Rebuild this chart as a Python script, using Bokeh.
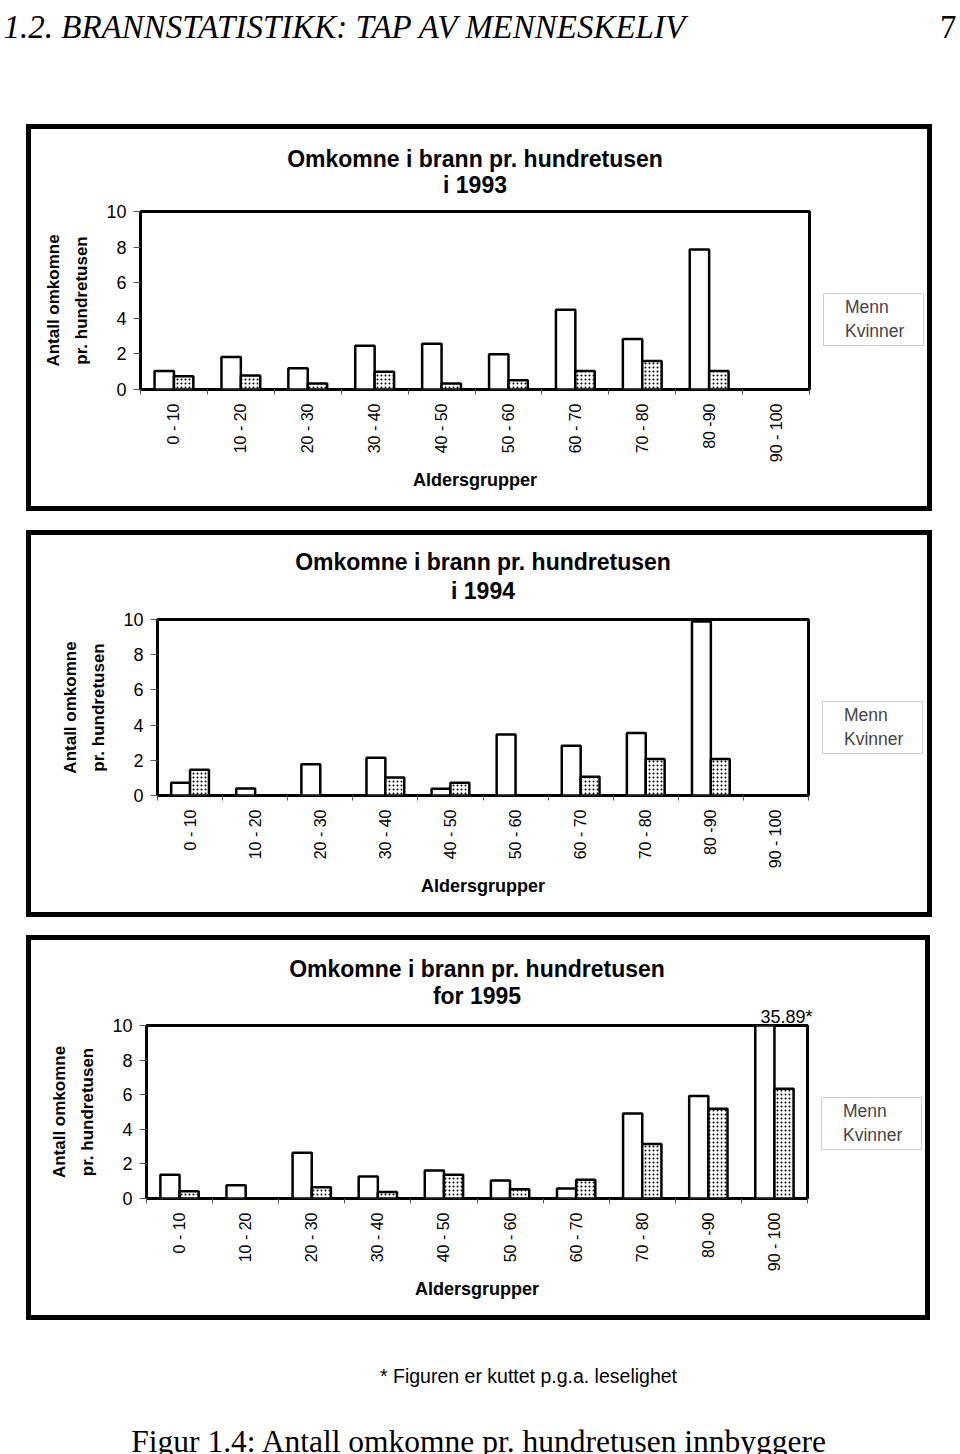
import math
from bokeh.plotting import figure
from bokeh.models import (Range1d, FixedTicker, Legend, LegendItem, Title,
                          Spacer, ColumnDataSource)
from bokeh.layouts import column, row
from bokeh.transform import dodge
from bokeh.core.properties import value
from bokeh.embed import file_html
from bokeh.resources import INLINE

# ---------------- data ----------------
AGE_GROUPS = ["0 - 10", "10 - 20", "20 - 30", "30 - 40", "40 - 50",
              "50 - 60", "60 - 70", "70 - 80", "80 -90", "90 - 100"]
SERIES = ["Menn", "Kvinner"]

MENN_1993 = [1.04, 1.83, 1.19, 2.46, 2.57, 1.98, 4.48, 2.84, 7.87, 0.0]
KVINNER_1993 = [0.75, 0.78, 0.34, 1.00, 0.34, 0.52, 1.04, 1.60, 1.04, 0.0]

MENN_1994 = [0.72, 0.40, 1.77, 2.15, 0.38, 3.47, 2.83, 3.55, 9.89, 0.0]
KVINNER_1994 = [1.47, 0.0, 0.0, 1.02, 0.72, 0.0, 1.06, 2.08, 2.08, 0.0]

MENN_1995 = [1.38, 0.77, 2.65, 1.27, 1.62, 1.04, 0.58, 4.92, 5.92, 35.89]
KVINNER_1995 = [0.42, 0.0, 0.65, 0.38, 1.38, 0.54, 1.08, 3.15, 5.19, 6.35]

Y_TICKS = [0, 2, 4, 6, 8, 10]

TITLE_MAIN = "Omkomne i brann pr. hundretusen"
SUB_1993 = "i 1993"
SUB_1994 = "i 1994"
SUB_1995 = "for 1995"
Y_LABEL = "Antall omkomne\npr. hundretusen"
X_LABEL = "Aldersgrupper"
HEADER = "1.2. BRANNSTATISTIKK: TAP AV MENNESKELIV"
PAGE_NO = "7"
FOOTNOTE = "* Figuren er kuttet p.g.a. leselighet"
CAPTION = "Figur 1.4: Antall omkomne pr. hundretusen innbyggere"

SANS = "Liberation Sans"
SERIF = "Liberation Serif"
BAR_W = 0.29
BOX = 5        # thickness of the outer chart frame (CSS outline)
GAP_R = 10     # space kept right of the plot frame inside the chart figure

MENN_STYLE = dict(fill_color="white", line_color="black", line_width=2.5)
KVINNER_STYLE = dict(fill_color="white", line_color="black", line_width=2.5,
                     hatch_pattern="dot", hatch_color="black", hatch_scale=4,
                     hatch_weight=1.2)


def make_chart(sub, menn, kvinner, box_w, box_h, left, top, right, bottom,
               legend_xy, title_standoffs):
    n = len(AGE_GROUPS)
    centers = list(range(n))
    ymax = Y_TICKS[-1]
    src = ColumnDataSource(dict(x=centers, menn=menn, kvinner=kvinner))
    fw = box_w - left - right
    fh = box_h - top - bottom
    inner_w = box_w - 2 * BOX
    inner_h = box_h - 2 * BOX
    p = figure(frame_width=fw, frame_height=fh,
               min_border_left=left - BOX, min_border_top=top - BOX,
               min_border_right=GAP_R, min_border_bottom=bottom - BOX,
               x_range=Range1d(-0.5, n - 0.5), y_range=Range1d(0, ymax),
               output_backend="svg", toolbar_location=None)
    p.vbar(x=dodge("x", -BAR_W / 2), top="menn", width=BAR_W, source=src,
           **MENN_STYLE)
    p.vbar(x=dodge("x", BAR_W / 2), top="kvinner", width=BAR_W, source=src,
           **KVINNER_STYLE)

    p.xgrid.visible = False
    p.ygrid.visible = False
    p.outline_line_color = "black"
    p.outline_line_width = 3
    p.background_fill_color = "white"
    p.border_fill_color = "white"

    # values cut by the axis limit get a note just above the frame
    cut = [(i, v) for i, v in enumerate(menn) if v > ymax]
    s_note, s_sub, s_main = title_standoffs
    for i, v in cut:
        p.add_layout(Title(text=f"{v:.2f}*", align="right", offset=-5,
                           standoff=s_note, text_font=SANS,
                           text_font_size="18px", text_font_style="normal",
                           text_color="black"), "above")
    for txt, so in ((sub, s_sub), (TITLE_MAIN, s_main)):
        p.add_layout(Title(text=txt, align="center", standoff=so,
                           text_font=SANS, text_font_size="23px",
                           text_font_style="bold", text_color="black"),
                     "above")

    xa = p.below[0]
    xa.ticker = FixedTicker(ticks=centers,
                            minor_ticks=[c - 0.5 for c in centers] + [n - 0.5])
    xa.major_label_overrides = {c: lab for c, lab in zip(centers, AGE_GROUPS)}
    xa.major_label_orientation = math.pi / 2
    xa.major_tick_out = 0
    xa.major_tick_in = 0
    xa.minor_tick_out = 5
    xa.minor_tick_in = 0
    xa.minor_tick_line_color = "#555555"
    xa.axis_line_color = None
    xa.major_label_standoff = 9
    xa.major_label_text_font = SANS
    xa.major_label_text_font_size = "16px"
    xa.major_label_text_color = "black"
    xa.axis_label = X_LABEL
    xa.axis_label_text_font = SANS
    xa.axis_label_text_font_style = "bold"
    xa.axis_label_text_font_size = "18px"
    xa.axis_label_text_color = "black"
    xa.axis_label_standoff = 5

    ya = p.left[0]
    ya.ticker = FixedTicker(ticks=Y_TICKS)
    ya.major_tick_out = 7
    ya.major_tick_in = 0
    ya.minor_tick_line_color = None
    ya.major_tick_line_color = "#555555"
    ya.axis_line_color = None
    ya.major_label_standoff = 7
    ya.major_label_text_font = SANS
    ya.major_label_text_font_size = "18px"
    ya.major_label_text_color = "black"
    ya.axis_label = Y_LABEL
    ya.axis_label_text_font = SANS
    ya.axis_label_text_font_style = "bold"
    ya.axis_label_text_font_size = "17px"
    ya.axis_label_text_color = "black"
    ya.axis_label_text_line_height = 1.5
    ya.axis_label_standoff = 12

    # legend lives in its own narrow figure to the right of the chart
    # (its frame is aligned with the chart's frame by the row)
    chart_w = (left - BOX) + fw + GAP_R
    leg_w = inner_w - chart_w
    lf = figure(width=leg_w, height=inner_h, min_border=0,
                x_range=Range1d(0, 1), y_range=Range1d(0, 1),
                output_backend="svg", toolbar_location=None,
                outline_line_color=None)
    lf.axis.visible = False
    lf.grid.visible = False
    lr1 = lf.vbar(x=[], top=[], width=BAR_W, **MENN_STYLE)
    lr2 = lf.vbar(x=[], top=[], width=BAR_W, **KVINNER_STYLE)
    legend = Legend(items=[LegendItem(label=SERIES[0], renderers=[lr1]),
                           LegendItem(label=SERIES[1], renderers=[lr2])],
                    location=(legend_xy[0] - GAP_R, legend_xy[1]),
                    margin=0, padding=3, spacing=3,
                    glyph_width=14, glyph_height=14, label_standoff=4,
                    label_height=19, label_width=75, label_text_font=SANS,
                    label_text_font_size="17.5px",
                    border_line_color="#a0a0a0", border_line_width=1,
                    background_fill_color="white", background_fill_alpha=1)
    lf.add_layout(legend)

    return row(p, lf, width=inner_w, height=inner_h,
               styles={"outline": f"{BOX}px solid black",
                       "background-color": "white"})


def text_fig(w, h):
    f = figure(width=w, height=h, x_range=Range1d(0, w), y_range=Range1d(h, 0),
               output_backend="svg", toolbar_location=None,
               min_border=0, outline_line_color=None)
    f.axis.visible = False
    f.grid.visible = False
    return f


header = text_fig(960, 48)
header.text(x=[3], y=[26], text=[HEADER], text_font=value(SERIF),
            text_font_style="italic", text_font_size="33px",
            text_baseline="alphabetic", text_align="left", text_color="black")
header.text(x=[956], y=[26], text=[PAGE_NO], text_font=value(SERIF),
            text_font_size="33px", text_baseline="alphabetic",
            text_align="right", text_color="black")

c1 = make_chart(SUB_1993, MENN_1993, KVINNER_1993, 906, 387, 114, 87, 123, 122,
                (14, 43), (0, 28, -33))
c2 = make_chart(SUB_1994, MENN_1994, KVINNER_1994, 906, 387, 131, 89, 124, 122,
                (14, 41), (0, 32, -31))
c3 = make_chart(SUB_1995, MENN_1995, KVINNER_1995, 904, 385, 120, 90, 123, 122,
                (14, 48), (-2, -6, 3))

bottom = text_fig(960, 134)
bottom.text(x=[528], y=[55], text=[FOOTNOTE], text_font=value(SANS),
            text_font_size="19.5px", text_baseline="alphabetic",
            text_align="center", text_color="black")
bottom.text(x=[479], y=[121], text=[CAPTION], text_font=value(SERIF),
            text_font_size="31.5px", text_baseline="alphabetic",
            text_align="center", text_color="black")

layout = column(
    header,
    Spacer(height=76 + BOX, width=10),
    row(Spacer(width=26 + BOX, height=10), c1),
    Spacer(height=19 + 2 * BOX, width=10),
    row(Spacer(width=26 + BOX, height=10), c2),
    Spacer(height=18 + 2 * BOX, width=10),
    row(Spacer(width=26 + BOX, height=10), c3),
    Spacer(height=BOX, width=10),
    bottom,
)

open("out.html", "w").write(file_html(layout, INLINE))
